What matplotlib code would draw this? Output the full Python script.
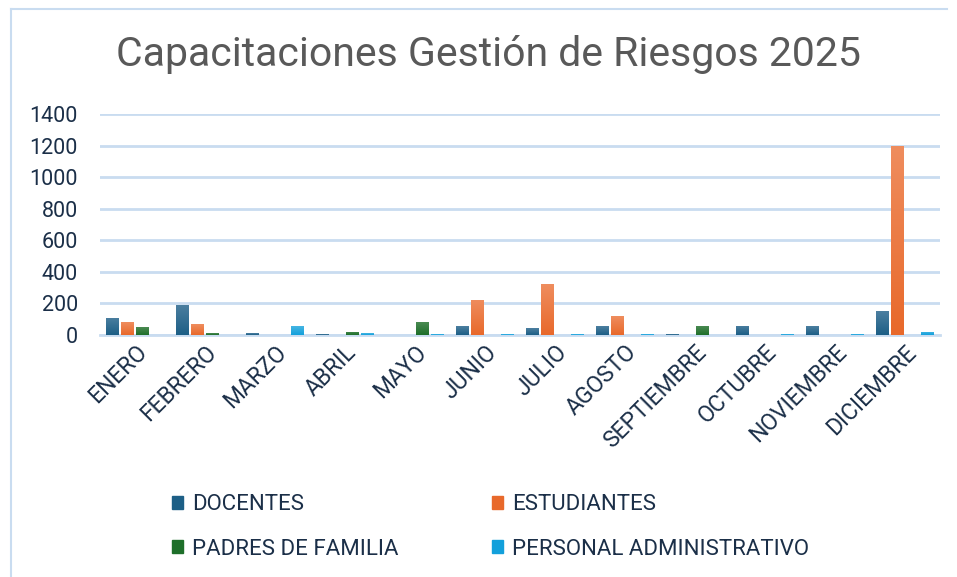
import matplotlib
matplotlib.use("Agg")
import matplotlib.pyplot as plt
import numpy as np
from matplotlib.patches import Rectangle
from matplotlib.lines import Line2D

months = ["ENERO", "FEBRERO", "MARZO", "ABRIL", "MAYO", "JUNIO", "JULIO",
          "AGOSTO", "SEPTIEMBRE", "OCTUBRE", "NOVIEMBRE", "DICIEMBRE"]
series_names = ["DOCENTES", "ESTUDIANTES", "PADRES DE FAMILIA", "PERSONAL ADMINISTRATIVO"]
docentes = [110, 193, 10, 5, 0, 55, 42, 55, 5, 60, 55, 150]
estudiantes = [80, 68, 0, 0, 0, 222, 320, 120, 0, 0, 0, 1200]
padres = [50, 10, 0, 22, 80, 0, 0, 0, 55, 0, 0, 0]
personal = [0, 0, 55, 10, 5, 5, 5, 5, 0, 5, 5, 22]
yticks = [0, 200, 400, 600, 800, 1000, 1200, 1400]
title = "Capacitaciones Gestión de Riesgos 2025"

colors = ["#1D5F86", "#E8692B", "#1E6F2A", "#13A0DB"]
top_colors = ["#4C7FA0", "#EF8D5E", "#4A8A52", "#45B5E3"]
text_col = "#1B2F48"
grid_col = "#C9DCF0"

plt.rcParams['font.family'] = ['Roboto', 'DejaVu Sans']

fig = plt.figure(figsize=(9.57, 5.77), dpi=100)
W, H = 957, 577
ax = fig.add_axes([100 / W, (H - 335) / H, 840 / W, 221 / H])

x = np.arange(len(months))
pitch = 15 / 70
width = 13 / 70
grad = np.linspace(0, 1, 64).reshape(-1, 1)
for i, (vals, c, tc) in enumerate(zip([docentes, estudiantes, padres, personal], colors, top_colors)):
    bars = ax.bar(x + (i - 1.5) * pitch, vals, width=width, color=c, zorder=3, label=series_names[i])
    cmap = matplotlib.colors.LinearSegmentedColormap.from_list("g%d" % i, [c, tc])
    for b in bars:
        h = b.get_height()
        if h <= 0:
            continue
        x0 = b.get_x()
        im = ax.imshow(grad, cmap=cmap, origin="lower", aspect="auto",
                       extent=(x0, x0 + b.get_width(), 0, h), zorder=4,
                       interpolation="bilinear")
        im.set_clip_path(b)

ax.set_xlim(-0.5, len(months) - 0.5)
ax.set_ylim(0, 1400)
ax.set_yticks(yticks)
ax.set_yticklabels([str(v) for v in yticks], fontsize=15.5, color=text_col)
ax.yaxis.grid(True, color=grid_col, lw=2, zorder=0)
ax.set_axisbelow(True)
for s in ["top", "right", "left"]:
    ax.spines[s].set_visible(False)
ax.spines["bottom"].set_color(grid_col)
ax.spines["bottom"].set_linewidth(2)
ax.tick_params(axis="y", length=0, pad=16)
ax.tick_params(axis="x", length=0, pad=4)
ax.set_xticks(x)
ax.set_xticklabels(months, rotation=45, ha="right", va="top", rotation_mode="anchor",
                   fontsize=16.5, color=text_col)

fig.text(488 / W, 1 - 55 / H, title, ha="center", va="center", fontsize=29.5, color="#595959")

handles = [Rectangle((0, 0), 1, 1, color=c) for c in colors]
order = [0, 2, 1, 3]
fig.legend([handles[k] for k in order], [series_names[k] for k in order],
           loc="center left", bbox_to_anchor=(152 / W, 1 - 527 / H),
           ncol=2, frameon=False, fontsize=16, labelcolor=text_col,
           handlelength=0.5, handleheight=0.5, handletextpad=0.4,
           columnspacing=4.2, labelspacing=1.05)

# chart frame
fig.add_artist(Line2D([11 / W, 11 / W], [0, 1 - 9 / H], color="#C9DCF0", lw=1.5))
fig.add_artist(Line2D([11 / W, 947 / W], [1 - 9 / H, 1 - 9 / H], color="#C9DCF0", lw=1.5))

fig.savefig("out.png", dpi=100)
